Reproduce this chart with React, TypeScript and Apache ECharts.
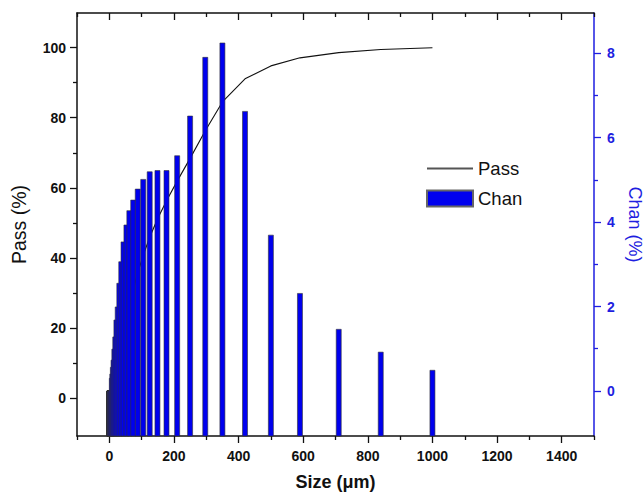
import React, { useEffect, useRef } from "react";
import * as echarts from "echarts";

// Particle size channels (µm), ascending
const sizes = [
  0.243, 0.289, 0.344, 0.409, 0.486, 0.578, 0.688, 0.818, 0.972, 1.16, 1.38, 1.64, 1.94, 2.31,
  2.75, 3.27, 3.89, 4.63, 5.5, 6.54, 7.78, 9.25, 11, 13.1, 15.6, 18.5, 22, 26, 31, 37, 44, 53,
  62, 74, 88, 105, 125, 149, 177, 210, 250, 297, 350, 420, 500, 590, 710, 840, 1000,
];
// Channel percentage (%)
const chanValues = [
  0, 0, 0, 0, 0, 0, 0, 0, 0, 0, 0, 0, 0, 0,
  0, 0, 0, 0, 0, 0, 0.3, 0.4, 0.56, 0.73, 0.99, 1.28, 1.68, 1.99, 2.55, 3.06, 3.53, 3.93,
  4.27, 4.52, 4.78, 5.01, 5.19, 5.22, 5.22, 5.57, 6.51, 7.9, 8.24, 6.62, 3.69, 2.31, 1.46, 0.92, 0.49,
];
// Cumulative passing (%)
const passValues = [
  0, 0, 0, 0, 0, 0, 0.01, 0.02, 0.03, 0.05, 0.07, 0.1, 0.15, 0.2,
  0.3, 0.4, 0.55, 0.7, 0.9, 1.1, 1.4, 1.8, 2.4, 3.1, 4.1, 5.4, 7.1, 9.1, 11.6, 14.7, 18.2, 22.1,
  26.4, 30.9, 35.7, 40.7, 45.9, 51.1, 56.3, 61.9, 68.4, 76.3, 84.5, 91.1, 94.8, 97.1, 98.6, 99.5, 100,
];

const xMajor = [0, 200, 400, 600, 800, 1000, 1200, 1400];
const xMinor = [-100, 100, 300, 500, 700, 900, 1100, 1300, 1500];
const passMajor = [0, 20, 40, 60, 80, 100];
const passMinor = [10, 30, 50, 70, 90];
const chanMajor = [0, 2, 4, 6, 8];
const chanMinor = [1, 3, 5, 7];

const X_MIN = -100;
const X_MAX = 1500;
const PASS_MIN = -10.86;
const PASS_MAX = 109.9;
const CHAN_MIN = -1.066;
const CHAN_MAX = 8.95;

const FONT = "Liberation Sans, Arial, sans-serif";
const BLUE = "#1e1ee0";
const BAR_BLUE = "#0000ee";

export default function App() {
  const ref = useRef<HTMLDivElement>(null);

  useEffect(() => {
    if (!ref.current) return;
    const chart = echarts.init(ref.current, undefined, { renderer: "svg" });

    const blackLine = { show: true, onZero: false, lineStyle: { color: "#111", width: 1.5 } };
    const noLine = { show: false, onZero: false };
    const plain = (v: number) => String(v);

    const xBase = { type: "value", min: X_MIN, max: X_MAX, splitLine: { show: false } };
    const passBase = { type: "value", min: PASS_MIN, max: PASS_MAX, splitLine: { show: false } };
    const chanBase = { type: "value", min: CHAN_MIN, max: CHAN_MAX, splitLine: { show: false } };

    const option: any = {
      animation: false,
      textStyle: { fontFamily: FONT },
      grid: { left: 77, right: 50, top: 13, bottom: 60, containLabel: false, outerBoundsMode: "none" },
      legend: {
        orient: "vertical",
        left: 421,
        top: 154,
        itemWidth: 46,
        itemHeight: 16,
        itemGap: 11,
        textStyle: { fontSize: 18.5, color: "#111", fontFamily: FONT },
        data: [
          { name: "Pass", itemStyle: { opacity: 0 }, lineStyle: { color: "#555", width: 2 } },
          { name: "Chan", icon: "rect" },
        ],
      },
      xAxis: [
        {
          ...xBase,
          position: "bottom",
          axisLine: blackLine,
          axisTick: { show: true, customValues: xMajor, length: 7, lineStyle: { color: "#111", width: 1.3 } },
          axisLabel: {
            show: true,
            customValues: xMajor,
            formatter: plain,
            margin: 13,
            fontSize: 14,
            fontWeight: "bold",
            color: "#111",
            fontFamily: FONT,
          },
          name: "Size (\u03bcm)",
          nameLocation: "middle",
          nameGap: 37,
          nameTextStyle: { fontSize: 18, fontWeight: "bold", color: "#111", fontFamily: FONT },
        },
        {
          ...xBase,
          position: "bottom",
          axisLine: noLine,
          axisTick: { show: true, customValues: xMinor, length: 4, lineStyle: { color: "#111", width: 1.3 } },
          axisLabel: { show: false },
        },
        {
          ...xBase,
          position: "top",
          axisLine: blackLine,
          axisTick: { show: true, inside: true, customValues: xMajor, length: 7, lineStyle: { color: "#111", width: 1.3 } },
          axisLabel: { show: false },
        },
        {
          ...xBase,
          position: "top",
          axisLine: noLine,
          axisTick: { show: true, inside: true, customValues: xMinor, length: 4, lineStyle: { color: "#111", width: 1.3 } },
          axisLabel: { show: false },
        },
      ],
      yAxis: [
        {
          ...passBase,
          position: "left",
          axisLine: blackLine,
          axisTick: { show: true, customValues: passMajor, length: 7, lineStyle: { color: "#111", width: 1.3 } },
          axisLabel: {
            show: true,
            customValues: passMajor,
            formatter: plain,
            margin: 11,
            fontSize: 14,
            fontWeight: "bold",
            color: "#111",
            fontFamily: FONT,
          },
          name: "Pass (%)",
          nameLocation: "middle",
          nameRotate: 90,
          nameGap: 48,
          nameTextStyle: { fontSize: 19.5, color: "#111", fontFamily: FONT },
        },
        {
          ...passBase,
          position: "left",
          axisLine: noLine,
          axisTick: { show: true, customValues: passMinor, length: 4, lineStyle: { color: "#111", width: 1.3 } },
          axisLabel: { show: false },
        },
        {
          ...chanBase,
          position: "right",
          axisLine: { show: true, onZero: false, lineStyle: { color: BLUE, width: 1.5 } },
          axisTick: { show: true, customValues: chanMajor, length: 7, lineStyle: { color: BLUE, width: 1.3 } },
          axisLabel: {
            show: true,
            customValues: chanMajor,
            formatter: plain,
            margin: 13,
            fontSize: 14,
            fontWeight: "bold",
            color: BLUE,
            fontFamily: FONT,
          },
          name: "Chan (%)",
          nameLocation: "middle",
          nameRotate: -90,
          nameGap: 29,
          nameTextStyle: { fontSize: 18, color: BLUE, fontFamily: FONT },
        },
        {
          ...chanBase,
          position: "right",
          axisLine: noLine,
          axisTick: { show: true, customValues: chanMinor, length: 4, lineStyle: { color: BLUE, width: 1.3 } },
          axisLabel: { show: false },
        },
      ],
      series: [
        {
          name: "Pass",
          type: "line",
          xAxisIndex: 0,
          yAxisIndex: 0,
          data: sizes.map((s, i) => [s, passValues[i]]),
          symbol: "none",
          showSymbol: false,
          lineStyle: { color: "#111", width: 1.1 },
          itemStyle: { color: "#555" },
          z: 1,
        },
        {
          name: "Chan",
          type: "custom",
          xAxisIndex: 0,
          yAxisIndex: 2,
          data: sizes.map((s, i) => [s, chanValues[i]]),
          itemStyle: { color: BAR_BLUE, borderColor: "#666", borderWidth: 0.6 },
          encode: { x: 0, y: 1 },
          z: 3,
          renderItem: (params: any, api: any) => {
            const x = api.value(0);
            const v = api.value(1);
            const top = api.coord([x, v]);
            const base = api.coord([x, CHAN_MIN]);
            const w = 5;
            return {
              type: "rect",
              shape: { x: top[0] - w / 2, y: top[1], width: w, height: base[1] - top[1] },
              style: { fill: BAR_BLUE, stroke: "#333", lineWidth: 0.6 },
            };
          },
        },
      ],
    };

    chart.setOption(option);
    return () => chart.dispose();
  }, []);

  return (
    <div
      ref={ref}
      style={{ position: "fixed", left: 0, top: 0, width: 644, height: 496, background: "#fff" }}
    />
  );
}
